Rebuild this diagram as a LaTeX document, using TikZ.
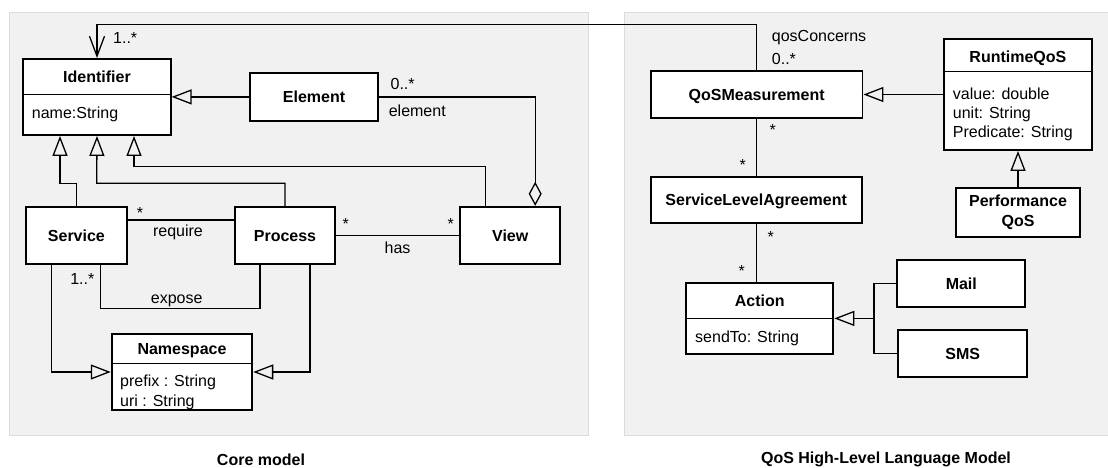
\documentclass[tikz,border=0pt]{standalone}
\usepackage{fontspec}
\setmainfont{Liberation Sans}
\usetikzlibrary{arrows.meta}
\definecolor{panelfill}{HTML}{F1F1F1}
\definecolor{panelline}{HTML}{DCDCDC}

\begin{document}
\begin{tikzpicture}[x=1pt,y=-1pt,
  every node/.style={font=\fontsize{16pt}{19.5pt}\selectfont},
  panel/.style={fill=panelfill, draw=panelline, line width=1.5pt},
  clsbox/.style={draw=black, fill=white, line width=1.9pt, inner sep=0pt,
    align=center, font=\fontsize{16pt}{19.5pt}\selectfont\bfseries},
  cls/.style={clsbox, text height=11.5pt, text depth=0pt},
  title/.style={inner sep=0pt, text height=11.5pt, text depth=0pt,
    font=\fontsize{16pt}{19.5pt}\selectfont\bfseries},
  attr/.style={inner sep=0pt, anchor=west, text height=11.5pt, text depth=0pt},
  lbl/.style={inner sep=0pt, text height=11.5pt, text depth=0pt},
  divider/.style={line width=1.3pt},
  conn/.style={line width=1.3pt, draw=black},
  gen/.style={conn, -{Triangle[open, length=20pt, width=15pt]}},
  nav/.style={conn, -{Straight Barb[length=20pt, width=15pt]}},
  agg/.style={conn, -{Diamond[open, length=24pt, width=13pt]}},
  caption/.style={inner sep=0pt, font=\fontsize{16pt}{19.5pt}\selectfont\bfseries},
]
\useasboundingbox (0,0) rectangle (1108,467);

% background panels
\draw[panel] (9.3,12.3) rectangle (588.3,435.7);
\draw[panel] (624.3,12.3) rectangle (1116,435.3);

% ---------- core model ----------
\node[clsbox, minimum width=147.4pt, minimum height=76pt] (ident) at (97,97) {};
\draw[divider] (ident.west |- 0,94.3) -- (ident.east |- 0,94.3);
\node[title] (ident-t) at (97,76.6) {Identifier};
\node[attr] (ident-a) at (31.7,112.3) {name:String};

\node[cls, minimum width=128pt, minimum height=47.7pt] (elem) at (314,96.9) {Element};
\node[cls, minimum width=100.7pt, minimum height=57.3pt] (svc) at (76.4,235.4) {Service};
\node[cls, minimum width=100pt, minimum height=57.3pt] (proc) at (285,235.4) {Process};
\node[cls, minimum width=100.3pt, minimum height=57.3pt] (view) at (510.2,235.4) {View};

\node[clsbox, minimum width=140.6pt, minimum height=76.6pt] (ns) at (182,372) {};
\draw[divider] (ns.west |- 0,363.3) -- (ns.east |- 0,363.3);
\node[title] (ns-t) at (182,348.4) {Namespace};
\node[attr] (ns-a1) at (120,381) {prefix : String};
\node[attr] (ns-a2) at (120,401) {uri : String};

% generalisations towards Identifier
\draw[gen] (elem.west) -- (elem.west -| ident.east);
\draw[gen] (svc.north) |- (60,183.3) -- ([xshift=-37pt]ident.south);
\draw[gen] (proc.north) |- (96.7,183.3) -- (ident.south);
\draw[gen] ([xshift=-25pt]view.north) |- (134,166.7) -- ([xshift=37pt]ident.south);

% aggregation of elements in a view
\draw[agg] (elem.east) -| ([xshift=25pt]view.north);
\node[lbl, anchor=west] (elem-m) at (390.4,83.3) {0..*};
\node[lbl, anchor=west] (elem-r) at (388.6,111) {element};

% require
\draw[conn] (svc.east |- 0,220) -- (proc.west |- 0,220);
\node[lbl] (req-m) at (140,212.5) {*};
\node[lbl] (req-r) at (178,230.7) {require};

% has
\draw[conn] (proc.east) -- (view.west);
\node[lbl] (has-m1) at (345.7,223.5) {*};
\node[lbl] (has-m2) at (450.7,223.5) {*};
\node[lbl] (has-r) at (397.5,247.7) {has};

% expose
\draw[conn] (svc.south -| 100.7,0) -- (100.7,308.7) -| (proc.south -| 260,0);
\node[lbl, anchor=east] (exp-m) at (94.5,278.3) {1..*};
\node[lbl] (exp-r) at (176.7,297.7) {expose};

% generalisations towards Namespace
\draw[gen] (svc.south -| 51.7,0) |- (ns.west);
\draw[gen] (proc.south -| 310,0) |- (ns.east);

% ---------- QoS model ----------
\node[cls, minimum width=211.6pt, minimum height=47.3pt] (qos) at (756.7,94.7) {QoSMeasurement};
\node[cls, minimum width=211pt, minimum height=46.6pt] (sla) at (756.2,200) {ServiceLevelAgreement};

\node[clsbox, minimum width=147.7pt, minimum height=111pt] (rt) at (1017.9,94.5) {};
\draw[divider] (rt.west |- 0,71.7) -- (rt.east |- 0,71.7);
\node[title] (rt-t) at (1017.9,56.6) {RuntimeQoS};
\node[attr] (rt-a1) at (952.7,93.3) {value: double};
\node[attr] (rt-a2) at (952.7,112.3) {unit: String};
\node[attr] (rt-a3) at (952.7,131.7) {Predicate: String};

\node[clsbox, minimum width=124pt, minimum height=48.4pt] (perf) at (1018,212.5) {Performance\\QoS};

\node[clsbox, minimum width=147.3pt, minimum height=71.3pt] (act) at (759.7,318.4) {};
\draw[divider] (act.west |- 0,318.3) -- (act.east |- 0,318.3);
\node[title] (act-t) at (759.7,300.6) {Action};
\node[attr] (act-a) at (695,336.7) {sendTo: String};

\node[cls, minimum width=128pt, minimum height=46.7pt] (mail) at (961.3,283.4) {Mail};
\node[cls, minimum width=128.7pt, minimum height=46.7pt] (sms) at (962.7,353.4) {SMS};

% qosConcerns association between the two models
\draw[nav] (qos.north) -- (qos.north |- 0,24.3) -| (ident.north);
\node[lbl, anchor=west] (top-m) at (113,38) {1..*};
\node[lbl, anchor=west] (qc-r) at (771.7,36) {qosConcerns};
\node[lbl, anchor=west] (qc-m) at (771.7,58.3) {0..*};

% generalisations in the QoS model
\draw[gen] (rt.west) -- (rt.west -| qos.east);
\draw[gen] (perf.north) -- (perf.north |- rt.south);
\coordinate (join) at (874,318.4);
\draw[conn] (mail.west) -| (join);
\draw[conn] (sms.west) -| (join);
\draw[gen] (join) -- (act.east);

% associations in the QoS model
\draw[conn] (qos.south) -- (qos.south |- sla.north);
\node[lbl] (qs-m1) at (772.7,130.2) {*};
\node[lbl] (qs-m2) at (742.7,164.5) {*};
\draw[conn] (sla.south) -- (sla.south |- act.north);
\node[lbl] (sa-m1) at (770.7,236.8) {*};
\node[lbl] (sa-m2) at (741.7,270.8) {*};

% captions
\node[caption] (cap1) at (261,460) {Core model};
\node[caption] (cap2) at (886,459.3) {QoS High-Level Language Model};
\end{tikzpicture}
\end{document}
